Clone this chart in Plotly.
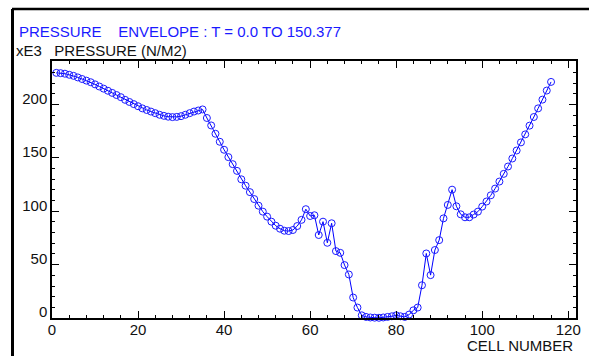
import plotly.graph_objects as go

cells = list(range(1, 117))
pressure_e3 = [
    229.8, 229.5, 229.0, 228.0, 227.0, 225.5, 224.0, 222.5, 221.0, 219.0,
    217.0, 215.0, 213.0, 211.0, 209.0, 207.0, 204.5, 202.5, 200.5, 198.5,
    196.5, 195.0, 193.5, 192.0, 190.5, 189.5, 188.7, 188.3, 188.5, 189.2,
    190.5, 192.0, 193.5, 194.5, 195.5, 187.5, 180.5, 172.7, 165.2, 157.7,
    150.8, 144.2, 137.9, 130.0, 124.0, 118.0, 111.5, 105.3, 99.7, 95.0,
    90.3, 86.5, 83.7, 81.8, 81.5, 82.5, 86.2, 92.0, 102.0, 95.6,
    96.3, 77.8, 90.3, 70.5, 88.8, 62.7, 61.1, 49.6, 40.8, 19.2,
    9.8, 2.5, 1.0, 0.5, 0.3, 0.2, 0.5, 1.0, 1.6, 2.5,
    1.6, 1.0, 3.2, 7.2, 9.8, 30.7, 60.5, 40.2, 63.7, 73.0,
    93.4, 106.0, 120.3, 104.7, 97.2, 94.4, 94.4, 97.0, 99.7, 104.4,
    109.2, 115.0, 121.3, 127.9, 135.1, 142.0, 149.5, 157.0, 164.6, 172.1,
    180.3, 188.4, 196.5, 204.7, 213.2, 221.3,
]

x_ticks = [0, 20, 40, 60, 80, 100, 120]
y_ticks = [0, 50, 100, 150, 200]

title_text = "PRESSURE&nbsp;&nbsp;&nbsp;&nbsp;ENVELOPE : T = 0.0 TO 150.377"
ytitle_text = "xE3&nbsp;&nbsp;&nbsp;PRESSURE (N/M2)"
xtitle_text = "CELL NUMBER"

FONT = "Liberation Sans, Arial, sans-serif"
W, H = 589, 356
L, R, T, B = 52, 13, 61, 38
PW, PH = W - L - R, H - T - B


def px(xp):
    return (xp - L) / PW


def py(yp):
    return (H - B - yp) / PH


fig = go.Figure()
fig.add_trace(go.Scatter(
    x=cells, y=pressure_e3, mode="lines+markers",
    line=dict(color="#0000ff", width=1),
    marker=dict(symbol="circle-open", size=7, color="#1a1aff", line=dict(width=1)),
    showlegend=False, cliponaxis=False, hoverinfo="skip",
))

axis_common = dict(
    showgrid=False, zeroline=False, showline=True, linecolor="black", linewidth=1.5,
    mirror="ticks", ticks="inside", ticklen=7, tickwidth=1, tickcolor="black",
    tickfont=dict(family=FONT, size=15, color="#111"), automargin=False,
)
fig.update_xaxes(
    range=[0, 121.8], tickvals=x_ticks, ticktext=[str(v) for v in x_ticks],
    minor=dict(ticks="inside", dtick=4, tick0=0, ticklen=3.5, tickcolor="black", showgrid=False),
    ticklabelstandoff=-3,
    **axis_common,
)
fig.update_yaxes(
    range=[0, 240.9], tickvals=y_ticks, ticktext=[str(v) for v in y_ticks],
    minor=dict(ticks="inside", dtick=10, tick0=0, ticklen=3.5, tickcolor="black", showgrid=False),
    ticklabelshift=-6,
    **axis_common,
)

fig.update_layout(
    width=W, height=H,
    margin=dict(l=L, r=R, t=T, b=B, autoexpand=False),
    paper_bgcolor="white", plot_bgcolor="white",
    font=dict(family=FONT),
    annotations=[
        dict(text=title_text, xref="paper", yref="paper", x=px(17), y=py(32),
             xanchor="left", yanchor="middle", showarrow=False,
             font=dict(family=FONT, size=15, color="#1a1aff")),
        dict(text=ytitle_text, xref="paper", yref="paper", x=px(14), y=py(51),
             xanchor="left", yanchor="middle", showarrow=False,
             font=dict(family=FONT, size=15, color="#111")),
        dict(text=xtitle_text, xref="paper", yref="paper", x=px(575), y=py(345.5),
             xanchor="right", yanchor="middle", showarrow=False,
             font=dict(family=FONT, size=15, color="#111")),
    ],
    shapes=[
        dict(type="line", xref="paper", yref="paper", x0=px(12), x1=px(589), y0=py(9), y1=py(9),
             line=dict(color="black", width=2.5)),
        dict(type="line", xref="paper", yref="paper", x0=px(12.5), x1=px(12.5), y0=py(9), y1=py(356),
             line=dict(color="black", width=3)),
    ],
)

fig.write_html(
    "out.html",
    config={"displayModeBar": False},
    post_script="document.body.style.margin='0';document.body.style.overflow='hidden';",
)
